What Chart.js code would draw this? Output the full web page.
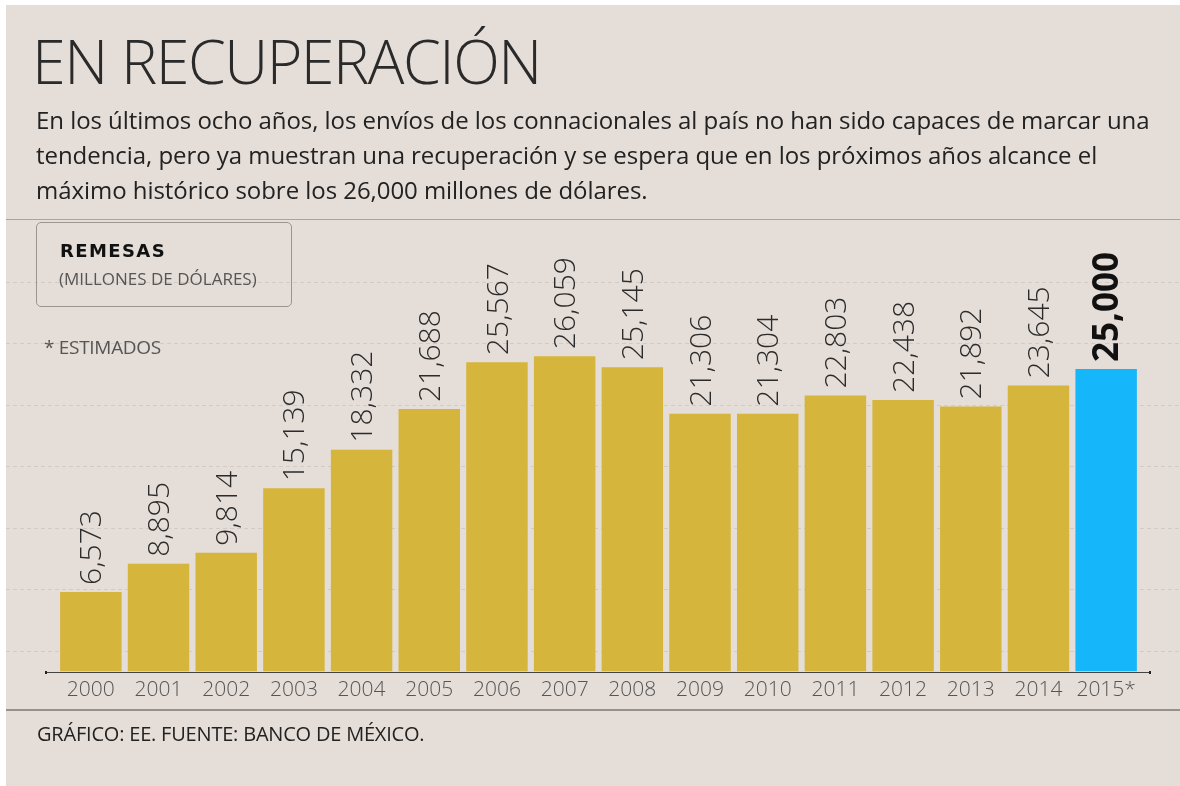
<!DOCTYPE html>
<html>
<head>
<meta charset="utf-8">
<script src="https://cdn.jsdelivr.net/npm/chart.js@4"></script>
<style>
  html, body { margin: 0; padding: 0; background: #fff; }
  body { width: 1180px; height: 786px; position: relative; overflow: hidden; font-family: "Open Sans", sans-serif; }
  #bg { position: absolute; left: 6px; top: 5px; width: 1174px; height: 781px; background: #e5ddd7; }
  #chart { position: absolute; left: 0; top: 0; }
  .txt { position: absolute; white-space: nowrap; }
  #title { left: 32px; top: 19px; font-size: 61px; font-weight: 300; color: #2a2a2a; letter-spacing: -1.5px; }
  #sub { left: 36px; top: 102px; font-size: 24px; line-height: 35px; color: #222; letter-spacing: -0.05px; }
  #box { position: absolute; left: 36px; top: 222px; width: 256px; height: 85px; border: 1px solid #9a9590; border-radius: 5px; box-sizing: border-box; }
  #unit1 { left: 60px; top: 240px; font-size: 18px; font-weight: 900; color: #111; font-family: "DejaVu Sans", sans-serif; letter-spacing: 1.4px; }
  #unit2 { left: 59px; top: 267px; font-size: 17px; color: #555; }
  #est { left: 44px; top: 334px; font-size: 19px; color: #555; letter-spacing: -0.3px; }
  #foot { left: 37px; top: 720px; font-size: 20px; color: #222; letter-spacing: -0.2px; }
  .rule { position: absolute; left: 6px; width: 1174px; }
</style>
</head>
<body>
<div id="bg"></div>
<div class="rule" style="top:219px; border-top:1px solid #aaa39e;"></div>
<div class="rule" style="top:709px; border-top:2px solid #96918d;"></div>
<canvas id="chart" width="1180" height="786"></canvas>
<div class="txt" id="title">EN RECUPERACIÓN</div>
<div class="txt" id="sub">En los últimos ocho años, los envíos de los connacionales al país no han sido capaces de marcar una<br>tendencia, pero ya muestran una recuperación y se espera que en los próximos años alcance el<br>máximo histórico sobre los 26,000 millones de dólares.</div>
<div id="box"></div>
<div class="txt" id="unit1">REMESAS</div>
<div class="txt" id="unit2">(MILLONES DE DÓLARES)</div>
<div class="txt" id="est">* ESTIMADOS</div>
<div class="txt" id="foot">GRÁFICO: EE. FUENTE: BANCO DE MÉXICO.</div>

<script>
// remesas, millones de dolares
const years = ["2000", "2001", "2002", "2003", "2004", "2005", "2006", "2007", "2008", "2009", "2010", "2011", "2012", "2013", "2014", "2015*"];
const remesas = [6573, 8895, 9814, 15139, 18332, 21688, 25567, 26059, 25145, 21306, 21304, 22803, 22438, 21892, 23645, 25000];
// background guide lines (value positions on the y scale)
const gridTicks = [1735, 6815, 11895, 16975, 22055, 27135, 32215];
const yMax = 34000;

const gold = "#d5b53b";
const blue = "#16b6fb";

function isEstimate(i) {
    return years[i].endsWith("*");
}

const guides = {
    id: "guides",
    beforeDatasetsDraw(chart) {
        const ctx = chart.ctx;
        const y = chart.scales.y;
        ctx.save();
        ctx.strokeStyle = "#d2cac4";
        ctx.lineWidth = 1;
        ctx.setLineDash([4, 3]);
        gridTicks.forEach(v => {
            const py = Math.round(y.getPixelForValue(v)) + 0.5;
            ctx.beginPath();
            ctx.moveTo(6, py);
            ctx.lineTo(1180, py);
            ctx.stroke();
        });
        ctx.restore();
    },
    afterDatasetsDraw(chart) {
        const ctx = chart.ctx;
        const area = chart.chartArea;
        // baseline with end dots
        ctx.save();
        ctx.strokeStyle = "#444";
        ctx.lineWidth = 1;
        ctx.beginPath();
        ctx.moveTo(area.left - 11, Math.round(area.bottom) + 0.5);
        ctx.lineTo(area.right + 10, Math.round(area.bottom) + 0.5);
        ctx.stroke();
        ctx.fillStyle = "#222";
        ctx.fillRect(area.left - 12, Math.round(area.bottom) - 1, 2, 3);
        ctx.fillRect(area.right + 9, Math.round(area.bottom) - 1, 2, 3);

        // rotated value labels
        const meta = chart.getDatasetMeta(0);
        meta.data.forEach((bar, i) => {
            const v = remesas[i];
            ctx.save();
            ctx.translate(bar.x + 2, bar.y - 7);
            ctx.rotate(-Math.PI / 2);
            ctx.textAlign = "left";
            ctx.textBaseline = "middle";
            if (isEstimate(i)) {
                ctx.font = "bold 35px 'Open Sans'";
                ctx.fillStyle = "#111";
            } else {
                ctx.font = "300 30px 'Open Sans'";
                ctx.fillStyle = "#2b2b2b";
            }
            ctx.fillText(v.toLocaleString("en-US"), 0, 0);
            ctx.restore();
        });
        ctx.restore();
    }
};

new Chart(document.getElementById("chart"), {
    type: "bar",
    data: {
        labels: years,
        datasets: [{
            data: remesas,
            backgroundColor: remesas.map((v, i) => isEstimate(i) ? blue : gold),
            borderWidth: 0,
            barPercentage: 0.908,
            categoryPercentage: 1.0
        }]
    },
    options: {
        responsive: false,
        animation: false,
        events: [],
        layout: {
            padding: { left: 57, right: 40, top: 260.1, bottom: 74.5 }
        },
        plugins: {
            legend: { display: false },
            tooltip: { enabled: false }
        },
        scales: {
            x: {
                grid: { display: false, drawTicks: false },
                border: { display: false },
                ticks: {
                    color: "#555",
                    padding: 6,
                    font: { family: "Open Sans", size: 21, weight: 300 }
                },
                afterFit(scale) { scale.height = 40; }
            },
            y: {
                display: false,
                min: 0,
                max: yMax
            }
        }
    },
    plugins: [guides]
});
</script>
</body>
</html>
